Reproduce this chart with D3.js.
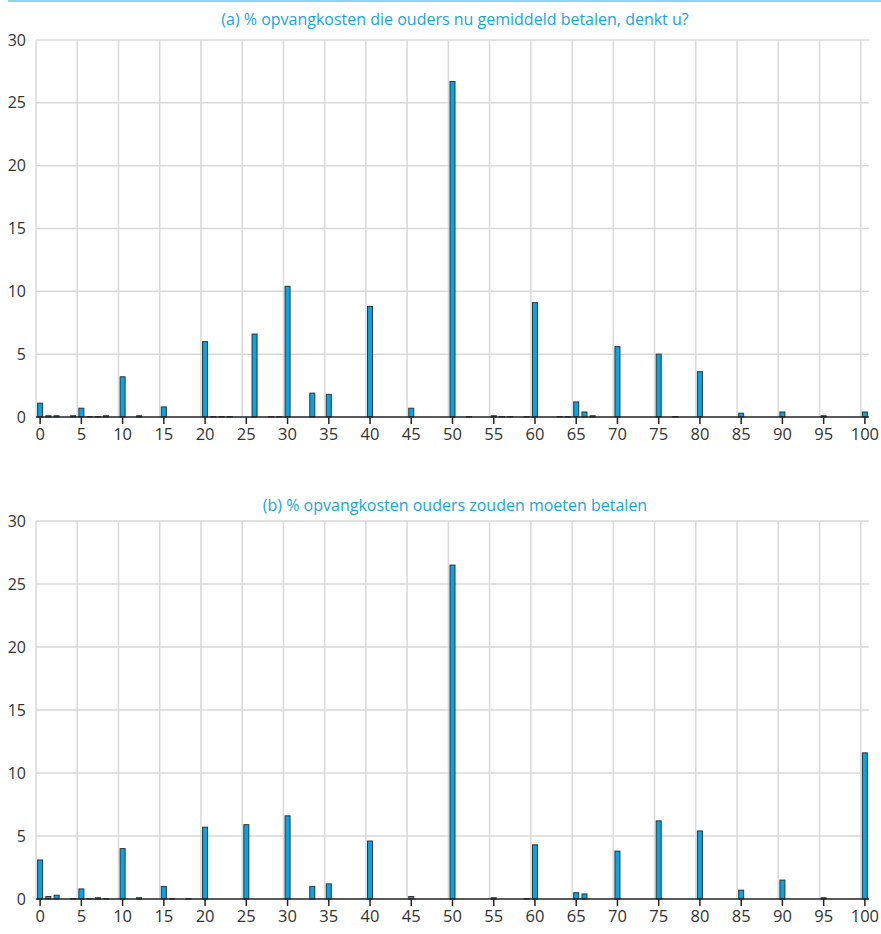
<!DOCTYPE html>
<html><head><meta charset="utf-8">
<script src="https://cdn.jsdelivr.net/npm/d3@7"></script>
<style>body{margin:0;background:#fff}svg{display:block}text{font-family:"Open Sans",sans-serif}</style>
</head><body><svg id="c" width="881" height="934"></svg>
<script>
const categories = d3.range(0, 101);
const titleA = "(a) % opvangkosten die ouders nu gemiddeld betalen, denkt u?";
const titleB = "(b) % opvangkosten ouders zouden moeten betalen";
// [category, value %]
const seriesA = [[0,1.1],[1,0.1],[2,0.1],[4,0.1],[5,0.7],[6,0.03],[7,0.03],[8,0.1],[10,3.2],[12,0.1],[15,0.8],
  [20,6.0],[21,0.03],[22,0.03],[23,0.03],[26,6.6],[28,0.03],[29,0.03],[30,10.4],[33,1.9],[35,1.8],[40,8.8],[45,0.7],
  [50,26.7],[52,0.03],[55,0.1],[56,0.03],[57,0.03],[59,0.03],[60,9.1],[63,0.03],[64,0.03],[65,1.2],[66,0.4],[67,0.1],
  [70,5.6],[75,5.0],[77,0.03],[80,3.6],[85,0.3],[90,0.4],[95,0.1],[100,0.4]];
const seriesB = [[0,3.1],[1,0.2],[2,0.3],[4,0.03],[5,0.8],[6,0.03],[7,0.1],[8,0.03],[10,4.0],[12,0.1],[15,1.0],[16,0.03],[18,0.03],
  [20,5.7],[25,5.9],[30,6.6],[33,1.0],[35,1.2],[40,4.6],[45,0.2],[50,26.5],[55,0.1],[59,0.03],[60,4.3],[65,0.5],[66,0.4],
  [70,3.8],[75,6.2],[80,5.4],[85,0.7],[90,1.5],[95,0.1],[100,11.6]];
const yTicks = [0,5,10,15,20,25,30];
const xTicks = d3.range(0, 101, 5);

const svg = d3.select("#c");
svg.append("line").attr("x1",8).attr("x2",881).attr("y1",1).attr("y2",1)
  .attr("stroke","#8ed4f2").attr("stroke-width",2);

function panel(title, data, top, bottom, titleY){
  const x = d3.scaleBand().domain(categories).range([36, 869]).paddingInner(0).paddingOuter(0);
  const y = d3.scaleLinear().domain([0,30]).range([bottom, top]);
  const g = svg.append("g");
  g.append("text").attr("x",455).attr("y",titleY).attr("text-anchor","middle")
    .attr("fill","#14a6e2").attr("font-size",16).text(title);
  // horizontal grid
  g.selectAll(".hg").data(yTicks.filter(d=>d>0)).join("line")
    .attr("x1",36).attr("x2",869).attr("y1",d=>y(d)).attr("y2",d=>y(d))
    .attr("stroke","#d9d9d9").attr("stroke-width",1.5);
  // vertical grid
  g.selectAll(".vg").data(xTicks).join("line")
    .attr("x1",d=>x(d)).attr("x2",d=>x(d)).attr("y1",y(30)).attr("y2",y(0))
    .attr("stroke","#d9d9d9").attr("stroke-width",1.5);
  // y labels
  g.selectAll(".yl").data(yTicks).join("text")
    .attr("x",26).attr("y",d=>y(d)).attr("dy","0.35em").attr("text-anchor","end")
    .attr("fill","#333").attr("font-size",16).text(d=>d);
  // bars
  const bw = 5;
  g.selectAll(".bar").data(data).join("rect")
    .attr("x",d=>x(d[0])+x.bandwidth()/2-bw/2).attr("width",bw)
    .attr("y",d=>y(d[1])).attr("height",d=>y(0)-y(d[1]))
    .attr("fill","#00a6e8").attr("stroke","#333").attr("stroke-width",1);
  // x axis
  const ax = d3.axisBottom(x).tickValues(xTicks).tickSize(7).tickPadding(4).tickSizeOuter(0);
  const axg = g.append("g").attr("transform",`translate(0,${y(0)})`).call(ax);
  axg.select(".domain").attr("stroke","#222").attr("stroke-width",1.5).attr("d",`M36,0H869`);
  axg.selectAll(".tick line").attr("stroke","#222").attr("stroke-width",1.5);
  axg.selectAll(".tick text").attr("fill","#333").attr("font-size",16.5).attr("font-family","Open Sans, sans-serif");
}
panel(titleA, seriesA, 40, 417, 25);
panel(titleB, seriesB, 521, 899, 511);
</script></body></html>
